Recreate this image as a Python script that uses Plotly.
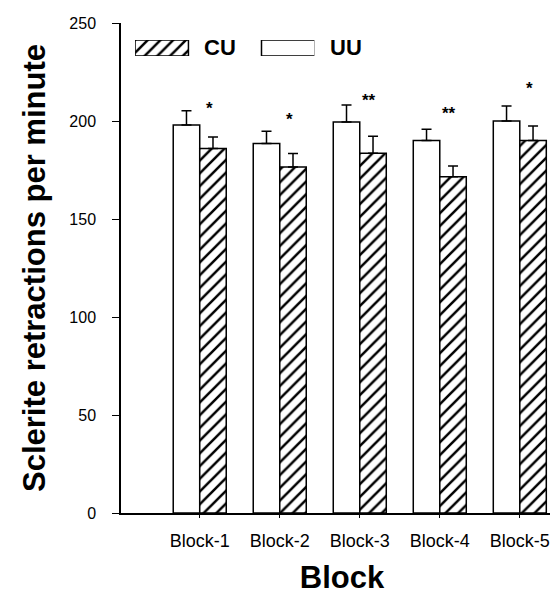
import plotly.graph_objects as go

# ---- data ----
blocks = ["Block-1", "Block-2", "Block-3", "Block-4", "Block-5"]
uu_values = [198, 188.5, 199.5, 190, 200]
uu_err = [7.2, 6.3, 8.7, 5.8, 7.7]
cu_values = [186, 176.5, 183.5, 171.5, 190]
cu_err = [5.8, 6.9, 8.7, 5.6, 7.4]
sig_labels = ["*", "*", "**", "**", "*"]
sig_y = [208.5, 203, 212.5, 206, 218.5]
legend_names = ["CU", "UU"]
y_ticks = [0, 50, 100, 150, 200, 250]

FONT = "Liberation Sans, Arial, sans-serif"
xpos = list(range(len(blocks)))

hatch = dict(shape="/", fgcolor="black", bgcolor="white", fgopacity=1,
             size=9, solidity=0.28)

fig = go.Figure()
fig.add_trace(go.Bar(
    x=xpos, y=uu_values, name="UU",
    marker=dict(color="white", line=dict(color="black", width=1.5)),
    error_y=dict(type="data", symmetric=False, array=uu_err,
                 arrayminus=[0] * len(uu_err), color="black", thickness=1.5, width=5),
    showlegend=False,
))
fig.add_trace(go.Bar(
    x=xpos, y=cu_values, name="CU",
    marker=dict(color="white", line=dict(color="black", width=1.5), pattern=hatch),
    error_y=dict(type="data", symmetric=False, array=cu_err,
                 arrayminus=[0] * len(cu_err), color="black", thickness=1.5, width=5),
    showlegend=False,
))

# significance stars above the CU bars
for i, (lab, yv) in enumerate(zip(sig_labels, sig_y)):
    fig.add_annotation(x=xpos[i] + 0.12, y=yv, xref="x", yref="y", text=lab,
                       showarrow=False, yshift=-4,
                       font=dict(family=FONT, size=17, color="black", weight="bold"))

# custom legend swatches (wide bars) on an overlay axis
leg_x = list(range(len(legend_names)))
leg_w = 0.422
fig.add_trace(go.Bar(
    x=[leg_x[0]], y=[1], width=leg_w, xaxis="x2", yaxis="y2", showlegend=False,
    marker=dict(color="white", line=dict(color="black", width=1.5), pattern=hatch),
    hoverinfo="skip",
))
fig.add_trace(go.Bar(
    x=[leg_x[1]], y=[1], width=leg_w, xaxis="x2", yaxis="y2", showlegend=False,
    marker=dict(color="white", line=dict(color="black", width=1.5)),
    hoverinfo="skip",
))
for i, nm in enumerate(legend_names):
    fig.add_annotation(x=leg_x[i], y=0.5, xref="x2", yref="y2", text=nm,
                       showarrow=False, xanchor="left", xshift=40,
                       font=dict(family=FONT, size=22, color="black", weight="bold"))

fig.update_layout(
    width=558, height=597,
    margin=dict(l=113, r=3, t=15, b=92),
    paper_bgcolor="white", plot_bgcolor="white",
    barmode="group", bargap=0.3375, bargroupgap=0,
    font=dict(family=FONT, color="black"),
    xaxis=dict(
        range=[-0.984, 4.54], tickvals=xpos, ticktext=blocks,
        showline=True, linecolor="black", linewidth=1.5,
        ticks="outside", ticklen=3, tickcolor="black",
        showgrid=False, zeroline=False, automargin=False,
        tickfont=dict(family=FONT, size=18, color="black"),
        ticklabelstandoff=8,
        title=dict(text="Block", standoff=16,
                   font=dict(family=FONT, size=31, color="black", weight="bold")),
    ),
    yaxis=dict(
        range=[0, 250], tickvals=y_ticks,
        showline=True, linecolor="black", linewidth=1.5,
        ticks="outside", ticklen=7, tickcolor="black",
        showgrid=False, zeroline=False, automargin=False,
        tickfont=dict(family=FONT, size=16, color="black"),
        ticklabelstandoff=13,
        title=dict(text="Sclerite retractions per minute", standoff=14,
                   font=dict(family=FONT, size=31, color="black", weight="bold")),
    ),
    xaxis2=dict(domain=[0.0319, 0.4374], range=[-0.211, 1.207], anchor="y2",
                visible=False, fixedrange=True),
    yaxis2=dict(domain=[0.9327, 0.9653], range=[0, 1], anchor="x2",
                visible=False, fixedrange=True),
)

fig.write_html("out.html")
